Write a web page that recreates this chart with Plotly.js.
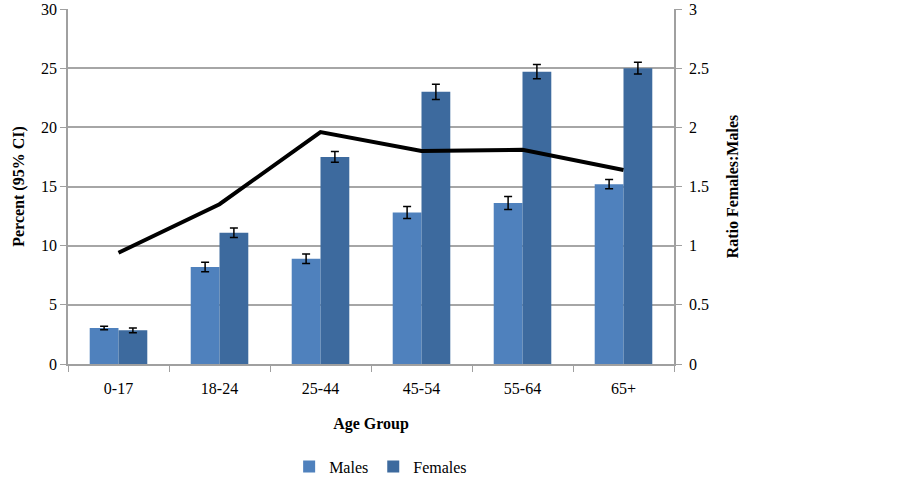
<!DOCTYPE html>
<html>
<head>
<meta charset="utf-8">
<script src="https://cdn.plot.ly/plotly-3.0.1.min.js"></script>
<style>
  body { margin: 0; background: #fff; }
  #chart { width: 902px; height: 477px; }
</style>
</head>
<body>
<div id="chart"></div>
<script>
const ageGroups = ["0-17", "18-24", "25-44", "45-54", "55-64", "65+"];
const males = [3.05, 8.2, 8.9, 12.8, 13.6, 15.2];
const malesErr = [0.15, 0.4, 0.4, 0.5, 0.55, 0.4];
const females = [2.85, 11.1, 17.5, 23.0, 24.7, 25.0];
const femalesErr = [0.2, 0.4, 0.45, 0.65, 0.6, 0.5];
const ratio = [0.94, 1.35, 1.96, 1.80, 1.81, 1.64];
const leftTicks = [0, 5, 10, 15, 20, 25, 30];
const rightTicks = [0, 0.5, 1, 1.5, 2, 2.5, 3];

const serif = "Times New Roman, Liberation Serif, serif";
const tickFont = { family: serif, size: 16, color: "#000" };

const traceMales = {
  x: ageGroups,
  y: males,
  type: "bar",
  name: "Males",
  marker: { color: "#4f81bd" },
  error_y: { type: "data", array: malesErr, visible: true, color: "#000", thickness: 1.5, width: 4 }
};

const traceFemales = {
  x: ageGroups,
  y: females,
  type: "bar",
  name: "Females",
  marker: { color: "#3d6a9e" },
  error_y: { type: "data", array: femalesErr, visible: true, color: "#000", thickness: 1.5, width: 4 }
};

const traceRatio = {
  x: ageGroups,
  y: ratio,
  type: "scatter",
  mode: "lines",
  name: "Ratio",
  yaxis: "y2",
  showlegend: false,
  line: { color: "#000", width: 4 }
};

const layout = {
  width: 902,
  height: 477,
  margin: { l: 68, r: 228, t: 9, b: 113 },
  paper_bgcolor: "#fff",
  plot_bgcolor: "#fff",
  font: { family: serif, size: 15, color: "#000" },
  barmode: "group",
  bargap: 0.43,
  bargroupgap: 0,
  showlegend: true,
  legend: {
    orientation: "h",
    x: 0.422,
    xref: "container",
    xanchor: "center",
    y: 0.022,
    yref: "container",
    yanchor: "middle",
    font: { family: serif, size: 16 },
    itemwidth: 30,
    traceorder: "normal"
  },
  xaxis: {
    type: "category",
    title: { text: "<b>Age Group</b>", font: { family: serif, size: 16 }, standoff: 22 },
    tickfont: tickFont,
    ticklabelstandoff: 9,
    tickson: "boundaries",
    ticks: "outside",
    ticklen: 6,
    tickcolor: "#a0a0a0",
    showline: true,
    linecolor: "#a0a0a0",
    linewidth: 1.5,
    showgrid: false,
    zeroline: false,
    automargin: false
  },
  yaxis: {
    title: { text: "<b>Percent (95% CI)</b>", font: { family: serif, size: 16 }, standoff: 12 },
    tickfont: tickFont,
    ticklabeloverflow: "allow",
    range: [0, 30],
    tickmode: "array",
    tickvals: leftTicks,
    ticks: "outside",
    ticklen: 6,
    tickcolor: "#a0a0a0",
    showline: true,
    linecolor: "#a0a0a0",
    linewidth: 1.5,
    showgrid: true,
    gridcolor: "#a6a6a6",
    gridwidth: 1.5,
    zeroline: false,
    automargin: false
  },
  yaxis2: {
    title: { text: "<b>Ratio Females:Males</b>", font: { family: serif, size: 16 }, standoff: 19 },
    tickfont: tickFont,
    ticklabeloverflow: "allow",
    ticklabelstandoff: 4,
    overlaying: "y",
    side: "right",
    range: [0, 3],
    tickmode: "array",
    tickvals: rightTicks,
    ticks: "outside",
    ticklen: 6,
    tickcolor: "#a0a0a0",
    showline: true,
    linecolor: "#a0a0a0",
    linewidth: 1.5,
    showgrid: false,
    zeroline: false,
    automargin: false
  }
};

Plotly.newPlot("chart", [traceMales, traceFemales, traceRatio], layout, { displayModeBar: false });
</script>
</body>
</html>
